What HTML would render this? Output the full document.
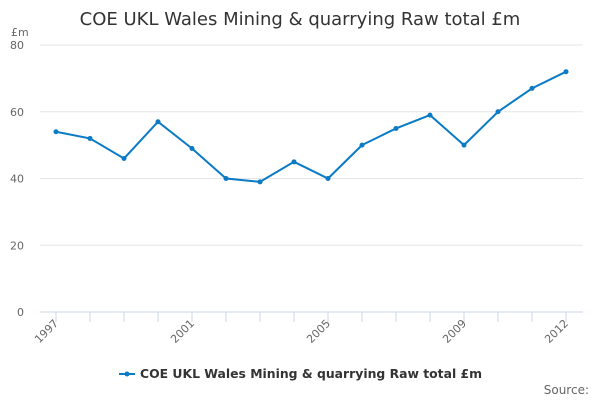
<!DOCTYPE html>
<html><head><meta charset="utf-8"><style>
body{margin:0;background:#fff;font-family:"DejaVu Sans","Liberation Sans",sans-serif;}
</style></head><body>
<svg width="600" height="400" xmlns="http://www.w3.org/2000/svg" font-family="DejaVu Sans, Liberation Sans, sans-serif">
<text x="300" y="25" text-anchor="middle" font-size="18" fill="#333">COE UKL Wales Mining &amp; quarrying Raw total £m</text>
<text x="11" y="36" font-size="11" fill="#666">£m</text>
<g id="grid"></g><g id="xaxis"></g><g id="series"></g>
<g>
<line x1="119" y1="374" x2="135" y2="374" stroke="#0a7bc4" stroke-width="2"/>
<circle cx="127" cy="374" r="2.5" fill="#0a7bc4"/>
<text x="140" y="378" font-size="12.4" font-weight="bold" fill="#333">COE UKL Wales Mining &amp; quarrying Raw total £m</text>
</g>
<text x="589" y="394" text-anchor="end" font-size="12" fill="#666">Source:</text>
</svg>
<script>
const years=[1997,1998,1999,2000,2001,2002,2003,2004,2005,2006,2007,2008,2009,2010,2011,2012];
const values=[54,52,46,57,49,40,39,45,40,50,55,59,50,60,67,72];
const yTicks=[0,20,40,60,80];
const xLabels=[1997,2001,2005,2009,2012];
const NS="http://www.w3.org/2000/svg";
const x=v=>56+(v-1997)*34, y=v=>312-v*267/80;
function mk(t,a,p){const e=document.createElementNS(NS,t);for(const k in a)e.setAttribute(k,a[k]);p.appendChild(e);return e;}
const g=document.getElementById('grid');
yTicks.forEach(t=>{
 const l=mk('line',{x1:40,x2:583,y1:y(t),y2:y(t),stroke:t===0?'#ccd6eb':'#e6e6e6'},g);
 
 
 const tx=mk('text',{x:24,y:y(t)+4,'text-anchor':'end','font-size':11,fill:'#666'},g);tx.textContent=t;
 
 
});
const xa=document.getElementById('xaxis');
years.forEach(yr=>{const l=mk('line',{x1:x(yr),x2:x(yr),y1:312,y2:322,stroke:'#ccd6eb'},xa);
 
 });
xLabels.forEach(yr=>{const t=mk('text',{x:x(yr)+3,y:324,'text-anchor':'end','font-size':11,fill:'#666',transform:`rotate(-45 ${x(yr)+3} 324)`},xa);t.textContent=yr;
 
 });
const s=document.getElementById('series');
const p=mk('polyline',{points:years.map((yr,i)=>x(yr)+','+y(values[i])).join(' '),fill:'none',stroke:'#0a7bc4','stroke-width':2},s);


years.forEach((yr,i)=>{const c=mk('circle',{cx:x(yr),cy:y(values[i]),r:2.5,fill:'#0a7bc4'},s);
 
 });
</script>
</body></html>
